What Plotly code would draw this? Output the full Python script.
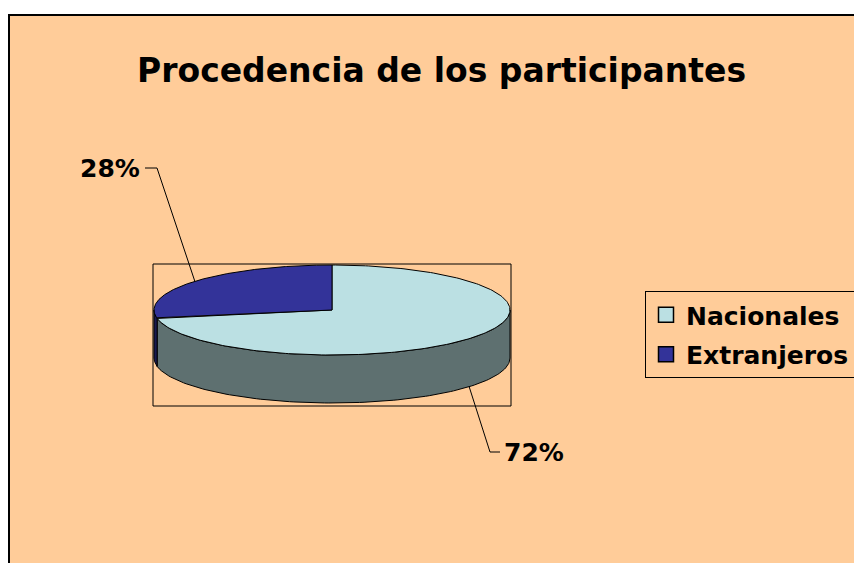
import numpy as np
import plotly.graph_objects as go

# ---- data ----
categories = ["Nacionales", "Extranjeros"]
values = [72, 28]
title_text = "Procedencia de los participantes"

# ---- styles ----
top_colors = ["#BBE0E3", "#333399"]
side_colors = ["#5E7070", "#1A1A50"]
bg_color = "#FFCC99"
FONT = "DejaVu Sans"

W, H = 862, 563
OFF = 8  # page body margin
cx, cy, rx, ry, depth = 332, 310, 178, 45, 48

total = float(sum(values))
fracs = [v / total for v in values]


def pt(theta_deg, dy=0.0):
    t = np.radians(theta_deg)
    return cx + rx * np.cos(t), cy - ry * np.sin(t) + dy


fig = go.Figure()

# slice angle ranges, clockwise from 12 o'clock
ranges = []
start = 90.0
for f in fracs:
    end = start - 360.0 * f
    ranges.append((end, start))
    start = end

# side walls (front, visible half)
for i, (lo, hi) in enumerate(ranges):
    for k in (-1, 0, 1):
        a = max(lo, -180 + 360 * k)
        b = min(hi, 360 * k)
        if a < b:
            th = np.linspace(a, b, 120)
            xs_t, ys_t = pt(th)
            xs_b, ys_b = pt(th[::-1], depth)
            xs = np.concatenate([xs_t, xs_b, xs_t[:1]])
            ys = np.concatenate([ys_t, ys_b, ys_t[:1]])
            fig.add_trace(go.Scatter(x=xs, y=ys, mode="lines", fill="toself",
                                     fillcolor=side_colors[i],
                                     line=dict(color="black", width=1),
                                     showlegend=False, hoverinfo="skip"))

# top faces
for i, (lo, hi) in enumerate(ranges):
    th = np.linspace(hi, lo, 240)
    xs, ys = pt(th)
    xs = np.concatenate([[cx], xs, [cx]])
    ys = np.concatenate([[cy], ys, [cy]])
    fig.add_trace(go.Scatter(x=xs, y=ys, mode="lines", fill="toself",
                             fillcolor=top_colors[i],
                             line=dict(color="black", width=1),
                             showlegend=False, hoverinfo="skip",
                             name=categories[i]))

# leader lines + labels
label_pos = {0: (502, 452, "left"), 1: (142, 168, "right")}
annotations = []
for i, (lo, hi) in enumerate(ranges):
    mid = (lo + hi) / 2.0
    s = np.sin(np.radians(mid))
    if s < 0:
        ex, ey = pt(mid, depth)
    else:
        ex, ey = pt(mid)
    lx, ly, side = label_pos[i]
    if side == "left":
        xs = [ex, lx - 12, lx - 2]
        ys = [ey, ly, ly]
    else:
        xs = [ex, lx + 15, lx + 3]
        ys = [ey, ly, ly]
    fig.add_trace(go.Scatter(x=xs, y=ys, mode="lines",
                             line=dict(color="black", width=1),
                             showlegend=False, hoverinfo="skip"))
    annotations.append(dict(x=lx, y=ly, xref="x", yref="y",
                            text=f"<b>{round(100 * fracs[i])}%</b>",
                            showarrow=False,
                            xanchor=side, yanchor="middle",
                            font=dict(family=FONT, size=25, color="black")))

# legend entries
for i, c in enumerate(categories):
    fig.add_trace(go.Scatter(x=[None], y=[None], mode="markers", name=c,
                             legendgroup=c,
                             marker=dict(symbol="square", size=15,
                                         color=top_colors[i],
                                         line=dict(color="black", width=1.5))))

annotations.append(dict(x=441, y=70, xref="x", yref="y",
                        text=f"<b>{title_text}</b>", showarrow=False,
                        xanchor="center", yanchor="middle",
                        font=dict(family=FONT, size=33, color="black")))

shapes = [
    dict(type="rect", xref="x", yref="y", x0=9, y0=15, x1=885, y1=585,
         line=dict(color="black", width=2), fillcolor=bg_color, layer="below"),
    dict(type="rect", xref="x", yref="y", x0=153, y0=264, x1=511, y1=406,
         line=dict(color="black", width=1), fillcolor="rgba(0,0,0,0)",
         layer="below"),
]

fig.update_layout(
    width=W, height=H,
    margin=dict(l=0, r=0, t=0, b=0),
    paper_bgcolor="white",
    plot_bgcolor="rgba(0,0,0,0)",
    xaxis=dict(range=[OFF, W + OFF], visible=False, fixedrange=True),
    yaxis=dict(range=[H + OFF, OFF], visible=False, fixedrange=True),
    shapes=shapes,
    annotations=annotations,
    showlegend=True,
    legend=dict(x=(645 - OFF) / W, y=1 - (291 - OFF) / H,
                xanchor="left", yanchor="top",
                bordercolor="black", borderwidth=1,
                bgcolor="rgba(0,0,0,0)",
                font=dict(family=FONT, size=25, color="black", weight="bold"),
                tracegroupgap=4, itemwidth=30),
)

fig.write_html("out.html")
